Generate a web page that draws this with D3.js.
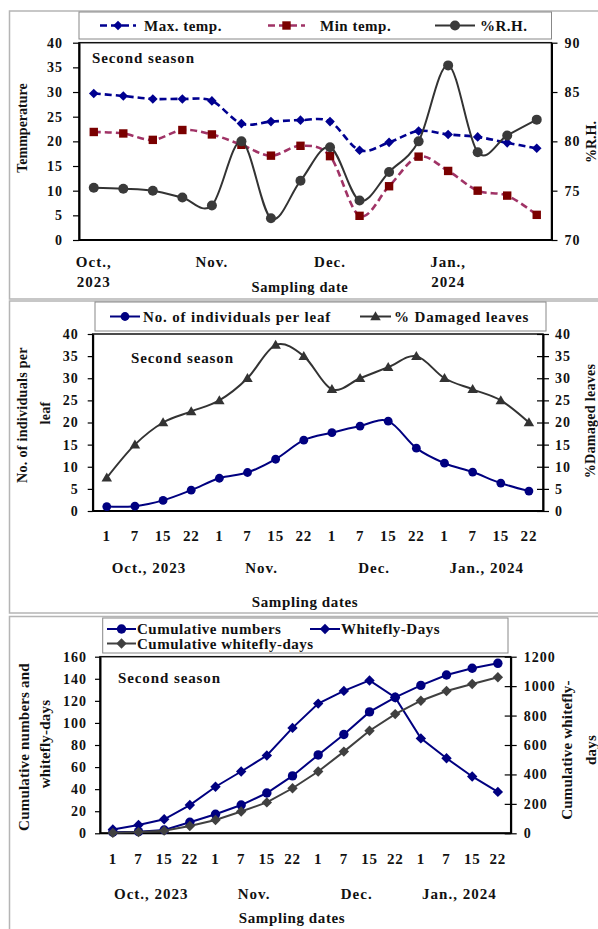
<!DOCTYPE html>
<html><head><meta charset="utf-8">
<script src="https://cdn.jsdelivr.net/npm/d3@7"></script>
<style>body{margin:0;background:#fff}</style>
</head><body><svg id="c" width="598" height="929"></svg>
<script>
// ---------- DATA ----------
const sampleDays = ["1","7","15","22","1","7","15","22","1","7","15","22","1","7","15","22"];
const topMonthLabels = [["Oct.,","2023"],["Nov."],["Dec."],["Jan.,","2024"]];
const monthLabels = ["Oct., 2023","Nov.","Dec.","Jan., 2024"];

const maxTemp = [29.7,29.2,28.6,28.6,28.2,23.6,24.0,24.3,24.0,18.2,19.8,22.1,21.4,20.9,19.7,18.6];
const minTemp = [21.9,21.6,20.3,22.3,21.4,19.3,17.1,19.1,17.0,4.9,10.9,16.9,14.0,10.0,9.0,5.1];
const relHum  = [75.3,75.2,75.0,74.3,73.5,80.0,72.2,76.0,79.4,74.0,76.9,80.0,87.7,78.9,80.6,82.2];
const tempTicks = [0,5,10,15,20,25,30,35,40];
const rhTicks = [70,75,80,85,90];

const individuals = [1.0,1.1,2.4,4.7,7.4,8.7,11.7,16.0,17.7,19.2,20.3,14.2,10.8,8.8,6.3,4.5];
const damaged = [7.5,15,20,22.5,25,30,37.5,35,27.5,30,32.5,35,30,27.5,25,20];
const midTicks = [0,5,10,15,20,25,30,35,40];

const cumNumbers = [1.0,1.5,3.0,10.0,17.2,25.6,36.5,52.0,71.0,89.5,110.0,123.2,134.0,143.4,149.5,154.0];
const whiteflyDays = [3.5,7.5,12.7,25.6,42.2,56.0,70.5,95.5,117.5,129.0,138.5,123.0,86.0,68.0,51.5,37.5];
const cumWhiteflyDays = [3,8,18,50,90,148,210,306,420,555,697,810,901,967,1014,1060];
const botLeftTicks = [0,20,40,60,80,100,120,140,160];
const botRightTicks = [0,200,400,600,800,1000,1200];

// ---------- HELPERS ----------
const FONT = '"Liberation Serif","Times New Roman",serif';
const svg = d3.select("#c");
const idx = d3.range(sampleDays.length);
const plain = d3.format("d");

function txt(x, y, s, o = {}) {
  const t = svg.append("text").attr("x", x).attr("y", y).text(s)
    .attr("font-family", FONT).attr("font-weight", "bold")
    .attr("font-size", o.size || 14).attr("fill", "#111")
    .attr("text-anchor", o.anchor || "start")
    .attr("letter-spacing", o.ls || 0);
  if (o.rot) t.attr("transform", `rotate(-90,${x},${y})`).attr("dominant-baseline", "central");
  return t;
}
function frame(y0, y1) {
  svg.append("rect").attr("x", 9.5).attr("y", y0).attr("width", 640).attr("height", y1 - y0)
    .attr("fill", "none").attr("stroke", "#b5b5b5").attr("stroke-width", 1.5);
}
function box(x0, y0, x1, y1, stroke, w) {
  svg.append("rect").attr("x", x0).attr("y", y0).attr("width", x1 - x0).attr("height", y1 - y0)
    .attr("fill", "#fff").attr("stroke", stroke).attr("stroke-width", w);
}
function mark(g, type, x, y, s, fill) {
  if (type === "circle") { g.append("circle").attr("cx", x).attr("cy", y).attr("r", s).attr("fill", fill); return; }
  let p;
  if (type === "diamond") p = `M${x},${y - s}L${x + s},${y}L${x},${y + s}L${x - s},${y}Z`;
  if (type === "square") p = `M${x - s},${y - s}h${2 * s}v${2 * s}h${-2 * s}Z`;
  if (type === "triangle") p = `M${x},${y - s * 1.05}L${x + s * 1.05},${y + s * 0.75}L${x - s * 1.05},${y + s * 0.75}Z`;
  g.append("path").attr("d", p).attr("fill", fill);
}
function series(xs, ys, values, st) {
  const g = svg.append("g");
  const line = d3.line().x((d, i) => xs(i)).y(d => ys(d)).curve(st.curve || d3.curveLinear);
  g.append("path").datum(values).attr("d", line).attr("fill", "none")
    .attr("stroke", st.color).attr("stroke-width", st.width).attr("stroke-dasharray", st.dash || null);
  values.forEach((v, i) => mark(g, st.marker, xs(i), ys(v), st.msize, st.mfill));
}
function legendItem(x1, x2, y, label, tx, st, ls) {
  const g = svg.append("g");
  g.append("line").attr("x1", x1).attr("x2", x2).attr("y1", y).attr("y2", y)
    .attr("stroke", st.color).attr("stroke-width", st.width).attr("stroke-dasharray", st.dash || null);
  mark(g, st.marker, (x1 + x2) / 2, y, st.msize, st.mfill);
  txt(tx, y + 5, label, { size: 15, ls: ls === undefined ? 0.5 : ls });
}
function styleAxis(g, cross) {
  g.select(".domain").attr("stroke", "#000").attr("stroke-width", 2);
  g.selectAll(".tick line").attr("stroke", "#000").attr("stroke-width", 1.2);
  if (cross) g.selectAll(".tick line").attr("x1", -6);
  g.selectAll(".tick text").attr("font-family", FONT).attr("font-weight", "bold")
    .attr("font-size", 14).attr("letter-spacing", 1).attr("fill", "#111");
}
const smooth = d3.curveCardinal.tension(0);

// ---------- PANEL 1 : weather ----------
frame(11, 299);
{
  const X0 = 79, X1 = 551.5, YT = 42.7, YB = 240;
  const xb = d3.scaleBand().domain(idx).range([X0, X1]);
  const xs = i => xb(i) + xb.bandwidth() / 2;
  const yL = d3.scaleLinear().domain([0, 40]).range([YB, YT]);
  const yR = d3.scaleLinear().domain([70, 90]).range([YB, YT]);
  box(X0, 12, X1, 39, "#888", 1);
  const stMax = { color: "#000090", width: 2.6, dash: "7,4", marker: "diamond", msize: 4.8, mfill: "#000090", curve: smooth };
  const stMin = { color: "#a03366", width: 2.6, dash: "7,4", marker: "square", msize: 4.2, mfill: "#7a0000", curve: smooth };
  const stRH = { color: "#333", width: 2, marker: "circle", msize: 5, mfill: "#3a3a3a", curve: smooth };
  legendItem(100, 136, 25.5, "Max. temp.", 144, stMax);
  legendItem(268, 305, 25.5, "Min temp.", 320, stMin);
  legendItem(435, 475, 25.5, "%R.H.", 480, stRH);
  box(X0, YT, X1, YB, "#111", 1.5);
  const gl = svg.append("g").attr("transform", `translate(${X0},0)`)
    .call(d3.axisLeft(yL).tickValues(tempTicks).tickFormat(plain).tickSize(6).tickSizeOuter(0).tickPadding(10));
  styleAxis(gl, false);
  const gr = svg.append("g").attr("transform", `translate(${X1},0)`)
    .call(d3.axisRight(yR).tickValues(rhTicks).tickFormat(plain).tickSize(6).tickSizeOuter(0).tickPadding(7));
  styleAxis(gr, false);
  svg.append("line").attr("x1", X0).attr("x2", X1).attr("y1", YB).attr("y2", YB).attr("stroke", "#000").attr("stroke-width", 2);
  series(xs, yL, maxTemp, stMax);
  series(xs, yL, minTemp, stMin);
  series(xs, yR, relHum, stRH);
  txt(92, 62.5, "Second season", { size: 15, ls: 0.9 });
  topMonthLabels.forEach((lines, k) => {
    lines.forEach((s, j) => txt(xs(k * 4), 266.5 + j * 20.5, s, { size: 15, anchor: "middle", ls: 1 }));
  });
  txt(300, 292, "Sampling date", { size: 14.5, anchor: "middle", ls: 0.6 });
  txt(22, 128, "Temmperature", { size: 14, anchor: "middle", rot: true });
  txt(591, 142, "%R.H.", { size: 14, anchor: "middle", rot: true });
}

// ---------- PANEL 2 : population ----------
frame(301, 613);
{
  const X0 = 92.7, X1 = 543, YT = 334, YB = 511;
  const xb = d3.scaleBand().domain(idx).range([X0, X1]);
  const xs = i => xb(i) + xb.bandwidth() / 2;
  const yL = d3.scaleLinear().domain([0, 40]).range([YB, YT]);
  const yR = d3.scaleLinear().domain([0, 40]).range([YB, YT]);
  box(95, 302, 546, 331, "#888", 1);
  const stInd = { color: "#000080", width: 2, marker: "circle", msize: 4.4, mfill: "#000080", curve: smooth };
  const stDam = { color: "#333", width: 2, marker: "triangle", msize: 5, mfill: "#333", curve: smooth };
  legendItem(110, 140, 316.5, "No. of individuals per leaf", 143, stInd, 0.85);
  legendItem(360, 391, 316.5, "% Damaged leaves", 394, stDam, 0.85);
  box(X0, YT, X1, YB, "#111", 1.5);
  const gl = svg.append("g").attr("transform", `translate(${X0},0)`)
    .call(d3.axisLeft(yL).tickValues(midTicks).tickFormat(plain).tickSize(5).tickSizeOuter(0).tickPadding(9));
  styleAxis(gl, false);
  const gr = svg.append("g").attr("transform", `translate(${X1},0)`)
    .call(d3.axisRight(yR).tickValues(midTicks).tickFormat(plain).tickSize(6).tickSizeOuter(0).tickPadding(6));
  styleAxis(gr, true);
  svg.append("line").attr("x1", X0).attr("x2", X1).attr("y1", YB).attr("y2", YB).attr("stroke", "#000").attr("stroke-width", 2);
  series(xs, yL, individuals, stInd);
  series(xs, yR, damaged, stDam);
  txt(131, 363, "Second season", { size: 15, ls: 0.9 });
  sampleDays.forEach((d, i) => txt(xs(i), 541, d, { size: 15, anchor: "middle", ls: 0.8 }));
  const mpos = [1.5, 5.5, 9.5, 13.5];
  monthLabels.forEach((s, k) => txt(X0 + xb.bandwidth() * (mpos[k] + 0.5), 573, s, { size: 15, anchor: "middle", ls: 1 }));
  txt(305, 607, "Sampling dates", { size: 15, anchor: "middle", ls: 0.6 });
  txt(22, 415, "No. of individuals per", { size: 14, anchor: "middle", rot: true, ls: 0.3 });
  txt(45, 413, "leaf", { size: 14, anchor: "middle", rot: true, ls: 0.3 });
  txt(590, 421, "%Damaged leaves", { size: 14, anchor: "middle", rot: true, ls: 0.3 });
}

// ---------- PANEL 3 : cumulative ----------
frame(616.5, 940);
{
  const X0 = 100, X1 = 510.7, YT = 656.7, YB = 833.3;
  const xb = d3.scaleBand().domain(idx).range([X0, X1]);
  const xs = i => xb(i) + xb.bandwidth() / 2;
  const yL = d3.scaleLinear().domain([0, 160]).range([YB, YT]);
  const yR = d3.scaleLinear().domain([0, 1200]).range([YB, YT]);
  box(102.7, 618, 508, 653, "#888", 1);
  const stCum = { color: "#000080", width: 2, marker: "circle", msize: 4.7, mfill: "#000080" };
  const stWD = { color: "#000080", width: 2, marker: "diamond", msize: 5.2, mfill: "#000080" };
  const stCWD = { color: "#404040", width: 2, marker: "diamond", msize: 5.2, mfill: "#404040" };
  legendItem(107, 136, 629, "Cumulative numbers", 137, stCum);
  legendItem(310, 340, 629, "Whitefly-Days", 341, stWD);
  legendItem(107, 136, 643.5, "Cumulative whitefly-days", 137, stCWD);
  box(X0, YT, X1, YB, "#111", 1.5);
  const gl = svg.append("g").attr("transform", `translate(${X0},0)`)
    .call(d3.axisLeft(yL).tickValues(botLeftTicks).tickFormat(plain).tickSize(5).tickSizeOuter(0).tickPadding(8));
  styleAxis(gl, false);
  const gr = svg.append("g").attr("transform", `translate(${X1},0)`)
    .call(d3.axisRight(yR).tickValues(botRightTicks).tickFormat(plain).tickSize(6).tickSizeOuter(0).tickPadding(7));
  styleAxis(gr, true);
  svg.append("line").attr("x1", X0).attr("x2", X1).attr("y1", YB).attr("y2", YB).attr("stroke", "#000").attr("stroke-width", 2);
  series(xs, yL, cumNumbers, stCum);
  series(xs, yL, whiteflyDays, stWD);
  series(xs, yR, cumWhiteflyDays, stCWD);
  txt(118, 683, "Second season", { size: 15, ls: 0.9 });
  sampleDays.forEach((d, i) => txt(xs(i), 864, d, { size: 15, anchor: "middle", ls: 0.8 }));
  const mpos = [1.5, 5.5, 9.5, 13.5];
  monthLabels.forEach((s, k) => txt(X0 + xb.bandwidth() * (mpos[k] + 0.5), 899, s, { size: 15, anchor: "middle", ls: 1 }));
  txt(292, 923, "Sampling dates", { size: 15, anchor: "middle", ls: 0.6 });
  txt(24, 747, "Cumulative numbers and", { size: 15, anchor: "middle", rot: true, ls: 0.2 });
  txt(45, 744, "whitefly-days", { size: 15, anchor: "middle", rot: true, ls: 0.2 });
  txt(567, 750, "Cumulative whitefly-", { size: 15, anchor: "middle", rot: true, ls: 0.2 });
  txt(591, 750, "days", { size: 15, anchor: "middle", rot: true, ls: 0.2 });
}
</script></body></html>
